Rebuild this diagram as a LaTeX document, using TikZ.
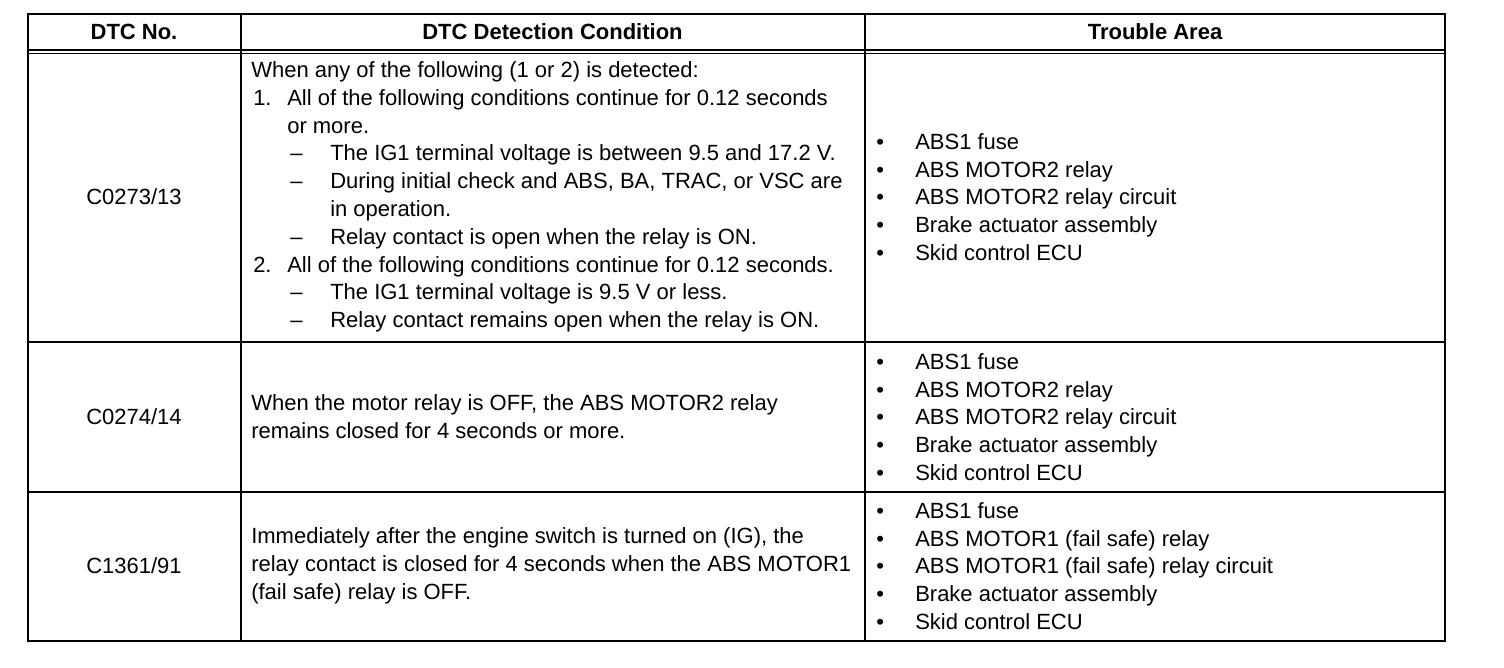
\documentclass[tikz,border=0pt]{standalone}
\usepackage{fontspec}
\setmainfont{Liberation Sans}
% list layout inside the condition cells
\newcommand{\nitem}[2]{\hspace*{1.5pt}\makebox[25.5pt][l]{#1}#2}
\newcommand{\ncont}[1]{\hspace*{27pt}#1}
\newcommand{\ditem}[1]{\hspace*{29.25pt}\makebox[30pt][l]{--}#1}
\newcommand{\dcont}[1]{\hspace*{59.25pt}#1}
\newcommand{\bitem}[1]{\makebox[29.25pt][l]{\textbullet}#1}
\begin{document}
\begin{tikzpicture}[x=0.75pt,y=-0.75pt,
    txt/.style={inner sep=0pt,font=\fontsize{16.5}{20.85}\selectfont},
    cell/.style={txt,anchor=west,align=left},
    head/.style={txt,font=\fontsize{16.5}{20.85}\selectfont\bfseries},
    rule/.style={line width=1.5pt},
    thinrule/.style={line width=1.2pt}]
  \useasboundingbox (0,0) rectangle (1504,668);
  \def\xa{28}
  \def\xb{240.5}
  \def\xc{865}
  \def\xd{1445}
  % grid
  \coordinate (NW) at (\xa,14);
  \coordinate (SE) at (\xd,641);
  \draw[rule] (NW) rectangle (SE);
  \draw[rule] (\xb,14) -- (\xb,641);
  \draw[rule] (\xc,14) -- (\xc,641);
  \draw[thinrule] (\xa,50) -- (\xd,50);
  \draw[thinrule] (\xa,53.5) -- (\xd,53.5);
  \draw[rule] (\xa,342) -- (\xd,342);
  \draw[rule] (\xa,492) -- (\xd,492);
  % header
  \node[head] (hNo) at (134,32) {DTC No.};
  \node[head] (hCond) at (552.5,32) {DTC Detection Condition};
  \node[head] (hArea) at (1155,32) {Trouble Area};
  % codes
  \node[txt] (code1) at (134,197) {C0273/13};
  \node[txt] (code2) at (134,417) {C0274/14};
  \node[txt] (code3) at (134,566) {C1361/91};
  % conditions
  \node[cell] (cond1) at (251,197) {When any of the following (1 or 2) is detected:\\
    \nitem{1.}{All of the following conditions continue for 0.12 seconds}\\
    \ncont{or more.}\\
    \ditem{The IG1 terminal voltage is between 9.5 and 17.2 V.}\\
    \ditem{During initial check and ABS, BA, TRAC, or VSC are}\\
    \dcont{in operation.}\\
    \ditem{Relay contact is open when the relay is ON.}\\
    \nitem{2.}{All of the following conditions continue for 0.12 seconds.}\\
    \ditem{The IG1 terminal voltage is 9.5 V or less.}\\
    \ditem{Relay contact remains open when the relay is ON.}};
  \node[cell] (cond2) at (251,417) {When the motor relay is OFF, the ABS MOTOR2 relay\\
    remains closed for 4 seconds or more.};
  \node[cell] (cond3) at (251,566) {Immediately after the engine switch is turned on (IG), the\\
    relay contact is closed for 4 seconds when the ABS MOTOR1\\
    (fail safe) relay is OFF.};
  % trouble areas
  \node[cell] (area1) at (876,197) {\bitem{ABS1 fuse}\\
    \bitem{ABS MOTOR2 relay}\\
    \bitem{ABS MOTOR2 relay circuit}\\
    \bitem{Brake actuator assembly}\\
    \bitem{Skid control ECU}};
  \node[cell] (area2) at (876,417) {\bitem{ABS1 fuse}\\
    \bitem{ABS MOTOR2 relay}\\
    \bitem{ABS MOTOR2 relay circuit}\\
    \bitem{Brake actuator assembly}\\
    \bitem{Skid control ECU}};
  \node[cell] (area3) at (876,566) {\bitem{ABS1 fuse}\\
    \bitem{ABS MOTOR1 (fail safe) relay}\\
    \bitem{ABS MOTOR1 (fail safe) relay circuit}\\
    \bitem{Brake actuator assembly}\\
    \bitem{Skid control ECU}};
\end{tikzpicture}
\end{document}
